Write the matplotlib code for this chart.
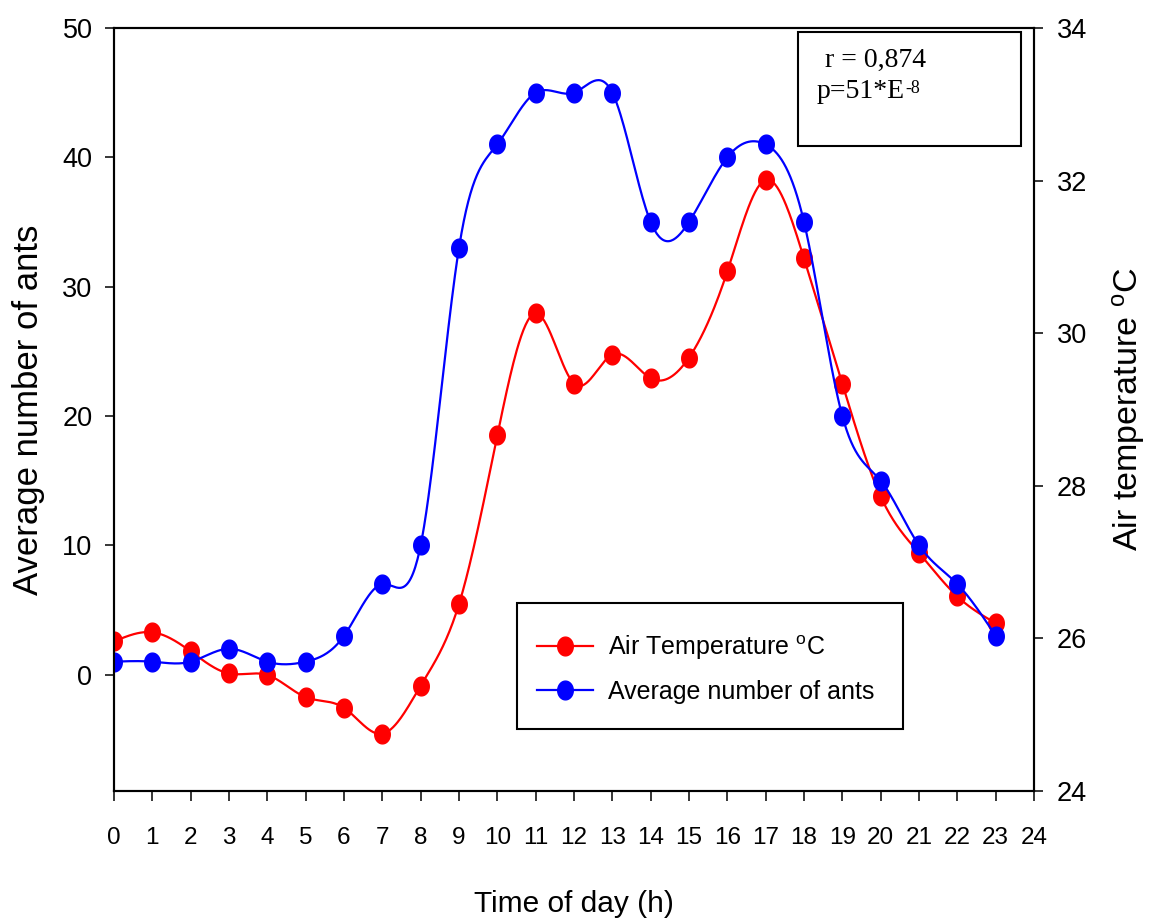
import numpy as np
import matplotlib
matplotlib.use("Agg")
import matplotlib.pyplot as plt
from matplotlib.path import Path
from matplotlib.patches import Rectangle

plt.rcParams['font.family'] = ['Liberation Sans', 'DejaVu Sans']
plt.rcParams['mathtext.fontset'] = 'custom'
plt.rcParams['mathtext.rm'] = 'Liberation Sans'
plt.rcParams['mathtext.it'] = 'Liberation Sans:italic'
plt.rcParams['mathtext.bf'] = 'Liberation Sans:bold'

hours = np.arange(0, 24)
ants = np.array([1, 1, 1, 2, 1, 1, 3, 7, 10, 33, 41, 45,
                 45, 45, 35, 35, 40, 41, 35, 20, 15, 10, 7, 3])
temp = np.array([25.96, 26.08, 25.83, 25.54, 25.52, 25.23, 25.09, 24.75,
                 25.38, 26.45, 28.66, 30.26, 29.34, 29.72, 29.41, 29.68,
                 30.81, 32.01, 30.98, 29.34, 27.86, 27.12, 26.55, 26.20])

x_ticks = np.arange(0, 25)
left_ticks = np.arange(0, 51, 10)
right_ticks = np.arange(24, 35, 2)


def spline(x, y, xs):
    # natural cubic spline, used only to draw the smooth line
    x = np.asarray(x, float)
    y = np.asarray(y, float)
    n = len(x)
    h = np.diff(x)
    A = np.zeros((n, n))
    r = np.zeros(n)
    A[0, 0] = A[-1, -1] = 1
    for i in range(1, n - 1):
        A[i, i - 1] = h[i - 1]
        A[i, i] = 2 * (h[i - 1] + h[i])
        A[i, i + 1] = h[i]
        r[i] = 3 * ((y[i + 1] - y[i]) / h[i] - (y[i] - y[i - 1]) / h[i - 1])
    c = np.linalg.solve(A, r)
    b = (y[1:] - y[:-1]) / h - h * (2 * c[:-1] + c[1:]) / 3
    d = (c[1:] - c[:-1]) / (3 * h)
    idx = np.clip(np.searchsorted(x, xs) - 1, 0, n - 2)
    dx = xs - x[idx]
    return y[idx] + b[idx] * dx + c[idx] * dx ** 2 + d[idx] * dx ** 3


# slightly narrow ellipse marker (reference is horizontally squeezed)
t = np.linspace(0, 2 * np.pi, 61)
ell = Path(np.column_stack([0.83 * np.cos(t), np.sin(t)]), closed=True)

fig = plt.figure(figsize=(11.5, 9.23), dpi=100)
ax = fig.add_axes([114 / 1150, 1 - 791 / 923, 920 / 1150, 763 / 923])
ax2 = ax.twinx()
ax2.set_zorder(ax.get_zorder() - 1)
ax.patch.set_visible(False)

xs = np.linspace(0, 23, 800)
l_temp, = ax2.plot(xs, spline(hours, temp, xs), color='#ff0000', lw=1.6)
p_temp, = ax2.plot(hours, temp, ls='none', marker=ell, ms=13.5,
                   color='#ff0000')
l_ants, = ax.plot(xs, spline(hours, ants, xs), color='#0000ff', lw=1.6)
p_ants, = ax.plot(hours, ants, ls='none', marker=ell, ms=13.5,
                  color='#0000ff')

ax.set_xlim(0, 24)
ax.set_ylim(-9, 50)
ax2.set_ylim(24, 34)
ax.set_xticks(x_ticks)
ax.set_yticks(left_ticks)
ax2.set_yticks(right_ticks)

for a in (ax, ax2):
    for s in a.spines.values():
        s.set_linewidth(1.5)
ax.tick_params(axis='x', direction='out', length=7, width=1.1,
               labelsize=17.5, pad=19)
ax.tick_params(axis='y', direction='out', length=6.5, width=1.1,
               labelsize=19.5, pad=9)
ax2.tick_params(axis='y', direction='out', length=6.5, width=1.1,
                labelsize=19.5, pad=10)

ax.set_xlabel('Time of day (h)', fontsize=21.5)
ax.xaxis.set_label_coords(0.5, -0.13)
ax.set_ylabel('Average number of ants', fontsize=25)
ax.yaxis.set_label_coords(-0.075, 0.5)
ax2.set_ylabel(r'Air temperature $^{\rm o}$C', fontsize=24.5)
ax2.yaxis.set_label_coords(1.083, 0.5)

# legend frame drawn separately so its size matches the reference
ax.add_artist(Rectangle((517 / 1150, 1 - 729 / 923), 386 / 1150, 126 / 923,
                        transform=fig.transFigure, fill=True, fc='white',
                        ec='black', lw=1.5, zorder=4))
leg = ax.legend([(l_temp, p_temp), (l_ants, p_ants)],
                [r'Air Temperature $^{\rm o}$C', 'Average number of ants'],
                loc='center left', bbox_to_anchor=(537 / 1150, 1 - 668.5 / 923),
                bbox_transform=fig.transFigure, borderaxespad=0, borderpad=0,
                fontsize=18, handlelength=2.25, handletextpad=0.6,
                labelspacing=0.7, frameon=False)
leg.set_zorder(6)

# statistics box
ax.add_patch(Rectangle((0.7435, 0.845), 0.2425, 0.15, transform=ax.transAxes,
                       fill=False, lw=1.5, ec='black', zorder=5))
ax.text(0.773, 0.949, 'r = 0,874', transform=ax.transAxes, fontsize=20,
        family='Liberation Serif', va='baseline', ha='left')
tp = ax.text(0.764, 0.908, 'p=51*E', transform=ax.transAxes, fontsize=20,
             family='Liberation Serif', va='baseline', ha='left')
ax.annotate('-8', xy=(1.0, 0.97), xycoords=tp, fontsize=13,
            family='Liberation Serif', va='top', ha='left')

fig.savefig('out.png', dpi=100)
